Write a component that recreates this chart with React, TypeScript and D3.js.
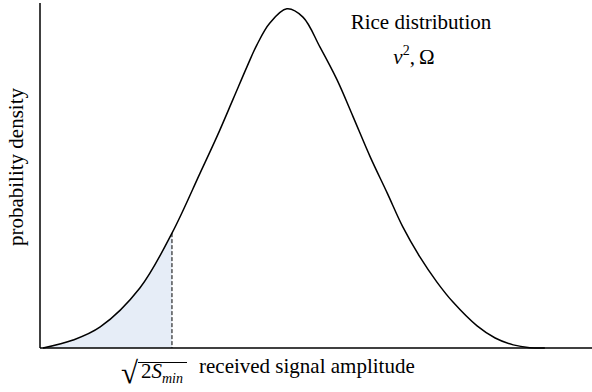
import React from "react";
import * as d3 from "d3";

// Estimated curve points (amplitude, density)
const amplitude = [0.06, 0.66, 1.2, 1.99, 2.63, 3.19, 3.53, 3.85, 4.13, 4.32, 4.58, 4.92, 5.24, 5.58, 5.92, 6.24, 6.58, 6.92, 7.23, 7.57, 7.91, 8.23, 8.71, 9.07, 9.43, 9.76, 10.06];
const density = [0, 0.023, 0.061, 0.174, 0.333, 0.507, 0.614, 0.722, 0.817, 0.878, 0.942, 0.983, 0.959, 0.872, 0.777, 0.67, 0.554, 0.449, 0.351, 0.264, 0.191, 0.133, 0.064, 0.029, 0.009, 0.001, 0];
const threshold = 2.63;
const xLabel = "received signal amplitude";
const yLabel = "probability density";
const titleLabel = "Rice distribution";

const W = 592, H = 392;

export default function App() {
  const x = d3.scaleLinear().domain([0, 11]).range([40, 592]);
  const y = d3.scaleLinear().domain([0, 1]).range([348, 3]);
  const pts = amplitude.map((a, i) => [a, density[i]] as [number, number]);
  const line = d3.line<[number, number]>().x(d => x(d[0])).y(d => y(d[1])).curve(d3.curveCatmullRom.alpha(0.5));
  const path = line(pts) || "";
  let areaPath = "";
  let threshY = y(density[amplitude.indexOf(threshold)] ?? 0.333);
  if (typeof document !== "undefined") {
    const ns = "http://www.w3.org/2000/svg";
    const svgTmp = document.createElementNS(ns, "svg");
    const tmp = document.createElementNS(ns, "path");
    tmp.setAttribute("d", path);
    svgTmp.appendChild(tmp);
    document.body.appendChild(svgTmp);
    const len = tmp.getTotalLength();
    const samples: [number, number][] = [];
    const xt = x(threshold);
    for (let l = 0; l <= len; l += 0.5) {
      const p = tmp.getPointAtLength(l);
      if (p.x > xt) break;
      samples.push([p.x, p.y]);
    }
    document.body.removeChild(svgTmp);
    if (samples.length) {
      const area = d3.area<[number, number]>().x(d => d[0]).y0(y(0)).y1(d => d[1]);
      areaPath = area([...samples, [xt, threshY]]) || "";
    }
  }
  const font = "'Liberation Serif', 'Times New Roman', serif";
  return (
    <svg width={W} height={H} style={{ position: "absolute", left: 0, top: 0 }} fontFamily={font}>
      <path d={areaPath} fill="#e6edf7" stroke="none" />
      <line x1={x(threshold)} x2={x(threshold)} y1={threshY} y2={y(0)} stroke="#000" strokeWidth={1} strokeDasharray="4,2" />
      <path d={path} fill="none" stroke="#000" strokeWidth={1.5} />
      <line x1={40} x2={592} y1={y(0)} y2={y(0)} stroke="#000" strokeWidth={1.5} />
      <line x1={40} x2={40} y1={y(1)} y2={y(0)} stroke="#000" strokeWidth={1.5} />
      <text x={18} y={167} transform="rotate(-90 18 167)" textAnchor="middle" dominantBaseline="middle" fontSize={21}>{yLabel}</text>
      <text x={199} y={373} fontSize={21}>{xLabel}</text>
      <text x={421} y={29} textAnchor="middle" fontSize={21}>{titleLabel}</text>
      <text x={414} y={64} textAnchor="middle" fontSize={21}>
        <tspan fontStyle="italic">ν</tspan>
        <tspan fontSize={14} dy={-9}>2</tspan>
        <tspan dy={9}>,{"\u2009"}Ω</tspan>
      </text>
      <text x={121} y={383} fontSize={31}>√</text>
      <text x={141} y={378} fontSize={21}>
        <tspan>2</tspan>
        <tspan fontStyle="italic">S</tspan>
        <tspan fontStyle="italic" fontSize={14} dy={5}>min</tspan>
      </text>
      <line x1={138} x2={187} y1={362.5} y2={362.5} stroke="#000" strokeWidth={1} />
    </svg>
  );
}
